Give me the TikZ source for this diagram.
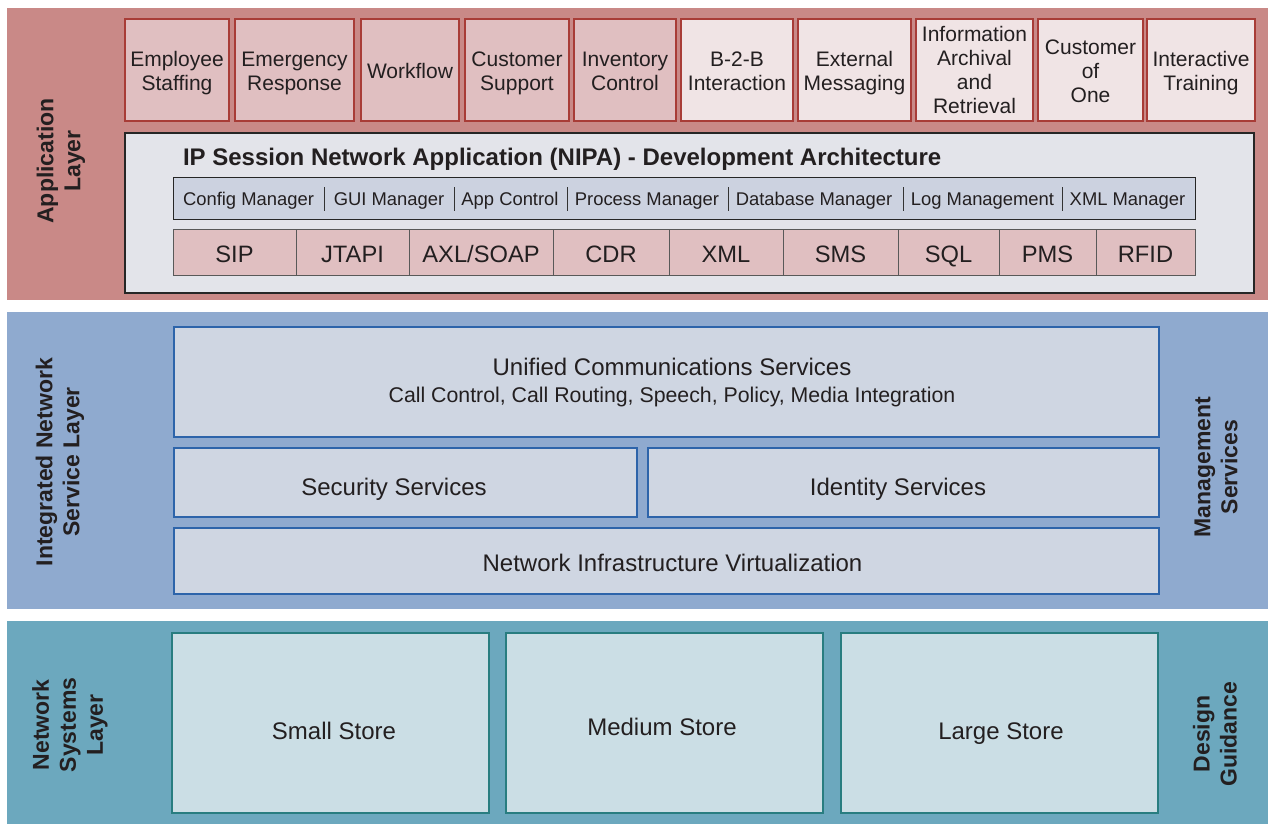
\documentclass[tikz,border=0pt]{standalone}
\usepackage{fontspec}
\setmainfont{Liberation Sans}
\definecolor{applayer}{RGB}{201,137,135}
\definecolor{appdark}{RGB}{224,191,193}
\definecolor{applight}{RGB}{240,228,229}
\definecolor{appborder}{RGB}{168,60,55}
\definecolor{nipafill}{RGB}{227,228,234}
\definecolor{mgrfill}{RGB}{204,210,224}
\definecolor{intlayer}{RGB}{143,170,207}
\definecolor{intbox}{RGB}{207,214,226}
\definecolor{intborder}{RGB}{45,100,170}
\definecolor{netlayer}{RGB}{108,168,190}
\definecolor{netbox}{RGB}{203,222,229}
\definecolor{netborder}{RGB}{40,125,128}
\definecolor{txt}{RGB}{35,31,32}
% box from (x1,y1) to (x2,y2), then its text node
\newcommand\pbox[8]{\node[#2, minimum width={(#5-#3)*1pt}, minimum height={(#6-#4)*1pt}] (#1) at ({(#3+#5)/2},{(#4+#6)/2}) {};
  \node[#7] (#1-t) at (#1.center) {#8};}
\begin{document}
\begin{tikzpicture}[x=1pt,y=-1pt,
  every node/.style={text=txt, inner sep=0pt, outer sep=0pt},
  layerbg/.style={rectangle, draw=none},
  appA/.style={rectangle, fill=appdark, draw=appborder, line width=1.2pt},
  appB/.style={appA, fill=applight},
  appT/.style={align=center, font=\fontsize{21}{24}\selectfont, yshift=-4pt},
  nipa/.style={rectangle, fill=nipafill, draw=black!85, line width=1.2pt},
  mgr/.style={rectangle, fill=mgrfill, draw=black!85, line width=1pt},
  mgrT/.style={font=\fontsize{18.4}{20}\selectfont},
  sepline/.style={draw=black!80, line width=0.9pt},
  proto/.style={rectangle, fill=appdark, draw=black!65, line width=0.9pt},
  protoT/.style={font=\fontsize{23.7}{26}\selectfont, yshift=-5.3pt},
  intb/.style={rectangle, fill=intbox, draw=intborder, line width=1.1pt},
  netb/.style={rectangle, fill=netbox, draw=netborder, line width=1.1pt},
  bigT/.style={font=\fontsize{24}{26}\selectfont},
  sidelabel/.style={rotate=90, align=center, font=\bfseries\fontsize{23}{27}\selectfont}
]
\useasboundingbox[fill=white] (0,0) rectangle (1272,824);
% layers
\pbox{Lapp}{layerbg, fill=applayer}{7}{8}{1268}{300}{}{}
\pbox{Lint}{layerbg, fill=intlayer}{7}{312}{1268}{609}{}{}
\pbox{Lnet}{layerbg, fill=netlayer}{7}{621}{1268}{824}{}{}
% side labels
\node[sidelabel] (lblapp) at (61,161) {Application\\Layer};
\node[sidelabel] (lblint) at (60,462) {Integrated Network\\Service Layer};
\node[sidelabel] (lblnet) at (70,725) {Network\\Systems\\Layer};
\node[sidelabel] (lblmgmt) at (1216,467) {Management\\Services};
\node[sidelabel] (lbldes) at (1215,734) {Design\\Guidance};
% application boxes
\pbox{a1}{appA}{125}{19}{229}{121}{appT}{\strut Employee\\\strut Staffing}
\pbox{a2}{appA}{235}{19}{354}{121}{appT}{\strut Emergency\\\strut Response}
\pbox{a3}{appA}{361}{19}{459}{121}{appT}{\strut Workflow}
\pbox{a4}{appA}{465}{19}{569}{121}{appT}{\strut Customer\\\strut Support}
\pbox{a5}{appA}{574}{19}{676}{121}{appT}{\strut Inventory\\\strut Control}
\pbox{a6}{appB}{681}{19}{793}{121}{appT}{\strut B-2-B\\\strut Interaction}
\pbox{a7}{appB}{798}{19}{911}{121}{appT}{\strut External\\\strut Messaging}
\pbox{a8}{appB}{916}{19}{1033}{121}{appT, yshift=1pt}{\strut Information\\\strut Archival\\\strut and\\\strut Retrieval}
\pbox{a9}{appB}{1038}{19}{1143}{121}{appT}{\strut Customer\\\strut of\\\strut One}
\pbox{a10}{appB}{1147}{19}{1255}{121}{appT}{\strut Interactive\\\strut Training}
% NIPA
\pbox{nipa}{nipa}{125}{133}{1254}{293}{}{}
\node[anchor=west, font=\bfseries\fontsize{24}{26}\selectfont] (title) at (183,160) {\strut IP Session Network Application (NIPA) - Development Architecture};
\pbox{mbar}{mgr}{173}{178}{1195}{219}{}{}
\node[mgrT] (m1) at (248.5,201.5) {\strut Config Manager};
\node[mgrT] (m2) at (389,201.5) {\strut GUI Manager};
\node[mgrT] (m3) at (510,201.5) {\strut App Control};
\node[mgrT] (m4) at (647,201.5) {\strut Process Manager};
\node[mgrT] (m5) at (814,201.5) {\strut Database Manager};
\node[mgrT] (m6) at (982.5,201.5) {\strut Log Management};
\node[mgrT] (m7) at (1127.5,201.5) {\strut XML Manager};
\foreach \sx in {324,454,567,728,903,1062} {\draw[sepline] (\sx,187) -- (\sx,211);}
% protocols
\pbox{p1}{proto}{173}{229}{296}{275}{protoT}{\strut SIP}
\pbox{p2}{proto}{296}{229}{409}{275}{protoT}{\strut JTAPI}
\pbox{p3}{proto}{409}{229}{553}{275}{protoT}{\strut AXL/SOAP}
\pbox{p4}{proto}{553}{229}{669}{275}{protoT}{\strut CDR}
\pbox{p5}{proto}{669}{229}{783}{275}{protoT}{\strut XML}
\pbox{p6}{proto}{783}{229}{898}{275}{protoT}{\strut SMS}
\pbox{p7}{proto}{898}{229}{999}{275}{protoT}{\strut SQL}
\pbox{p8}{proto}{999}{229}{1096}{275}{protoT}{\strut PMS}
\pbox{p9}{proto}{1096}{229}{1195}{275}{protoT}{\strut RFID}
% integrated network service layer
\pbox{ucs}{intb}{174}{327}{1159}{437}{bigT, yshift=12pt, xshift=5.5pt}{\strut Unified Communications Services}
\node[font=\fontsize{21.3}{23}\selectfont] (ucs-t2) at ([yshift=-15.5pt, xshift=5.5pt]ucs.center) {\strut Call Control, Call Routing, Speech, Policy, Media Integration};
\pbox{sec}{intb}{174}{448}{637}{517}{bigT, yshift=-7.8pt, xshift=-11.5pt}{\strut Security Services}
\pbox{idn}{intb}{648}{448}{1159}{517}{bigT, yshift=-7.8pt, xshift=-5.5pt}{\strut Identity Services}
\pbox{niv}{intb}{174}{528}{1159}{594}{bigT, yshift=-5.3pt, xshift=6pt}{\strut Network Infrastructure Virtualization}
% network systems layer
\pbox{small}{netb}{172}{633}{489}{813}{bigT, yshift=-11.3pt, xshift=3.5pt}{\strut Small Store}
\pbox{medium}{netb}{506}{633}{823}{813}{bigT, yshift=-7.3pt, xshift=-2.5pt}{\strut Medium Store}
\pbox{large}{netb}{841}{633}{1158}{813}{bigT, yshift=-11.3pt, xshift=1.5pt}{\strut Large Store}
\end{tikzpicture}
\end{document}
